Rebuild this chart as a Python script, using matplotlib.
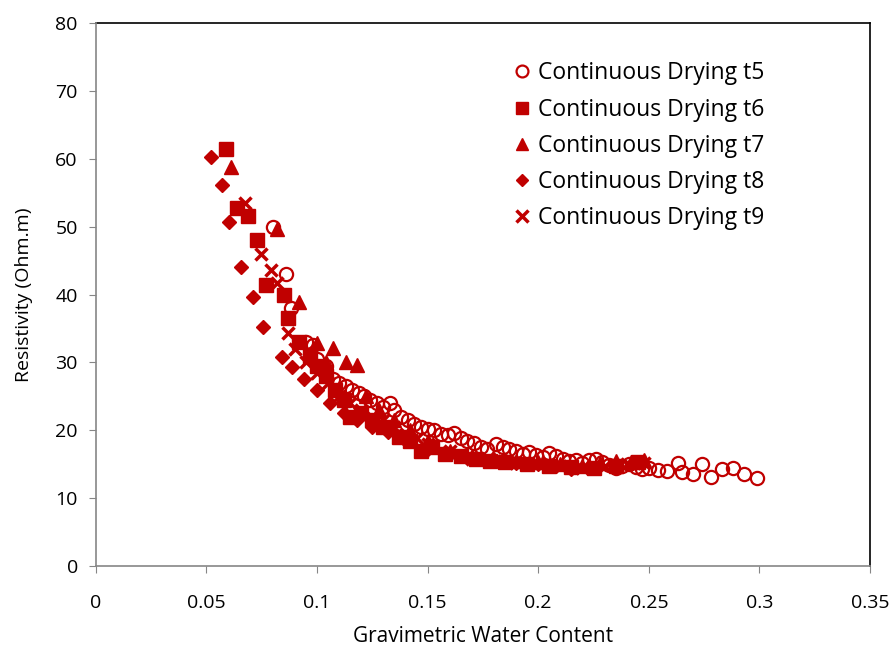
import matplotlib
matplotlib.use("Agg")
import matplotlib.pyplot as plt

plt.rcParams['font.family'] = ['Open Sans', 'DejaVu Sans']

# ---- data ----
t5_x = [0.080, 0.086, 0.088, 0.095, 0.098, 0.100, 0.104, 0.107, 0.110, 0.113, 0.116, 0.119,
        0.121, 0.124, 0.127, 0.130, 0.133, 0.135, 0.138, 0.141, 0.144, 0.147, 0.150, 0.153,
        0.156, 0.159, 0.162, 0.165, 0.168, 0.171, 0.174, 0.177, 0.181, 0.184, 0.187, 0.190,
        0.193, 0.196, 0.199, 0.202, 0.205, 0.208, 0.211, 0.214, 0.217, 0.220, 0.223, 0.226,
        0.229, 0.232, 0.235, 0.238, 0.241, 0.244, 0.247, 0.250, 0.254, 0.258, 0.263, 0.265,
        0.270, 0.274, 0.278, 0.283, 0.288, 0.293, 0.299]
t5_y = [50.0, 43.0, 38.0, 33.0, 32.5, 30.5, 29.5, 27.5, 27.0, 26.5, 26.0, 25.5,
        25.0, 24.5, 24.0, 23.5, 24.0, 23.0, 22.0, 21.5, 21.0, 20.5, 20.2, 20.0,
        19.5, 19.3, 19.6, 18.8, 18.5, 18.2, 17.5, 17.2, 18.0, 17.5, 17.3, 17.0,
        16.5, 16.8, 16.4, 16.0, 16.6, 16.2, 15.8, 15.5, 15.7, 15.2, 15.6, 15.8,
        15.3, 14.9, 14.5, 14.8, 15.1, 14.6, 14.3, 14.5, 14.2, 14.0, 15.2, 13.9,
        13.5, 15.0, 13.1, 14.3, 14.5, 13.6, 13.0]

t6_x = [0.059, 0.064, 0.069, 0.073, 0.077, 0.085, 0.087, 0.092, 0.097, 0.100, 0.104, 0.108,
        0.112, 0.115, 0.120, 0.125, 0.130, 0.137, 0.142, 0.147, 0.152, 0.158, 0.165, 0.172,
        0.178, 0.185, 0.195, 0.205, 0.215, 0.225, 0.235, 0.245]
t6_y = [61.4, 52.7, 51.5, 48.0, 41.4, 39.9, 36.5, 33.0, 31.0, 29.5, 28.0, 26.0,
        24.5, 22.0, 22.5, 21.5, 20.5, 19.0, 18.5, 17.0, 17.5, 16.5, 16.2, 15.8,
        15.5, 15.3, 15.0, 14.8, 14.6, 14.5, 14.8, 15.3]

t7_x = [0.061, 0.082, 0.092, 0.100, 0.104, 0.107, 0.113, 0.118, 0.122, 0.128, 0.135, 0.142,
        0.150, 0.160, 0.170, 0.180, 0.190, 0.200, 0.210, 0.220, 0.228, 0.235, 0.242, 0.248]
t7_y = [58.8, 49.6, 38.9, 32.8, 30.0, 32.1, 30.0, 29.6, 25.0, 23.0, 21.5, 20.0,
        18.5, 17.0, 16.2, 15.8, 15.5, 15.3, 15.0, 14.8, 15.2, 15.5, 15.3, 15.6]

t8_x = [0.052, 0.057, 0.060, 0.0655, 0.071, 0.0755, 0.084, 0.0887, 0.094, 0.100, 0.106, 0.112,
        0.118, 0.125, 0.132, 0.140, 0.150, 0.160, 0.170, 0.180, 0.190, 0.200, 0.208, 0.215]
t8_y = [60.3, 56.1, 50.7, 44.0, 39.6, 35.2, 30.8, 29.3, 27.5, 26.0, 24.0, 22.5,
        21.5, 20.5, 19.8, 18.5, 17.3, 16.5, 15.8, 15.5, 15.2, 15.0, 14.8, 14.3]

t9_x = [0.0674, 0.0746, 0.079, 0.082, 0.087, 0.090, 0.095, 0.100, 0.105, 0.110, 0.115, 0.120,
        0.125, 0.130, 0.135, 0.140, 0.145, 0.150, 0.160, 0.170, 0.180, 0.190, 0.200, 0.210,
        0.220, 0.230, 0.240, 0.248]
t9_y = [53.5, 46.0, 43.6, 41.7, 34.3, 32.0, 30.0, 28.5, 27.0, 25.0, 24.0, 23.0,
        22.0, 21.5, 20.5, 19.5, 18.8, 18.0, 17.0, 15.8, 15.5, 15.2, 15.0, 14.7,
        14.5, 14.7, 15.0, 15.2]

labels = ["Continuous Drying t5", "Continuous Drying t6", "Continuous Drying t7",
          "Continuous Drying t8", "Continuous Drying t9"]

x_ticks = [0, 0.05, 0.1, 0.15, 0.2, 0.25, 0.3, 0.35]
x_tick_labels = ["0", "0.05", "0.1", "0.15", "0.2", "0.25", "0.3", "0.35"]
y_ticks = [0, 10, 20, 30, 40, 50, 60, 70, 80]

red = "#C00000"
grey = "#868686"

fig = plt.figure(figsize=(8.96, 6.53), dpi=100)
ax = fig.add_axes([0.107, 0.133, 0.864, 0.832])

ax.plot(t5_x, t5_y, linestyle='none', marker='o', ms=9.5, mfc='none', mec=red, mew=1.6, label=labels[0])
ax.plot(t6_x, t6_y, linestyle='none', marker='s', ms=9.5, mfc=red, mec=red, label=labels[1])
ax.plot(t7_x, t7_y, linestyle='none', marker='^', ms=10, mfc=red, mec=red, label=labels[2])
ax.plot(t8_x, t8_y, linestyle='none', marker='D', ms=7, mfc=red, mec=red, label=labels[3])
ax.plot(t9_x, t9_y, linestyle='none', marker='x', ms=9, mec=red, mew=2.5, label=labels[4])

ax.set_xlim(0, 0.35)
ax.set_ylim(0, 80)
ax.set_xticks(x_ticks)
ax.set_xticklabels(x_tick_labels)
ax.set_yticks(y_ticks)
ax.tick_params(axis='both', labelsize=14, direction='out', length=5, color=grey)
ax.tick_params(axis='x', pad=15)
ax.tick_params(axis='y', pad=8)
for s in ['top', 'right']:
    ax.spines[s].set_color('black')
    ax.spines[s].set_linewidth(1.2)
for s in ['left', 'bottom']:
    ax.spines[s].set_color(grey)
    ax.spines[s].set_linewidth(1.2)
ax.spines['left'].set_zorder(3)
ax.spines['bottom'].set_zorder(3)
ax.set_xlabel("Gravimetric Water Content", fontsize=15, labelpad=10)
ax.set_ylabel("Resistivity (Ohm.m)", fontsize=14, labelpad=16)

leg = ax.legend(loc='upper left', bbox_to_anchor=(0.538, 0.929), frameon=False, fontsize=16.5,
                handlelength=0.8, handletextpad=0.3, labelspacing=0.53, markerscale=0.9,
                borderpad=0, borderaxespad=0)

fig.savefig("out.png", dpi=100)
